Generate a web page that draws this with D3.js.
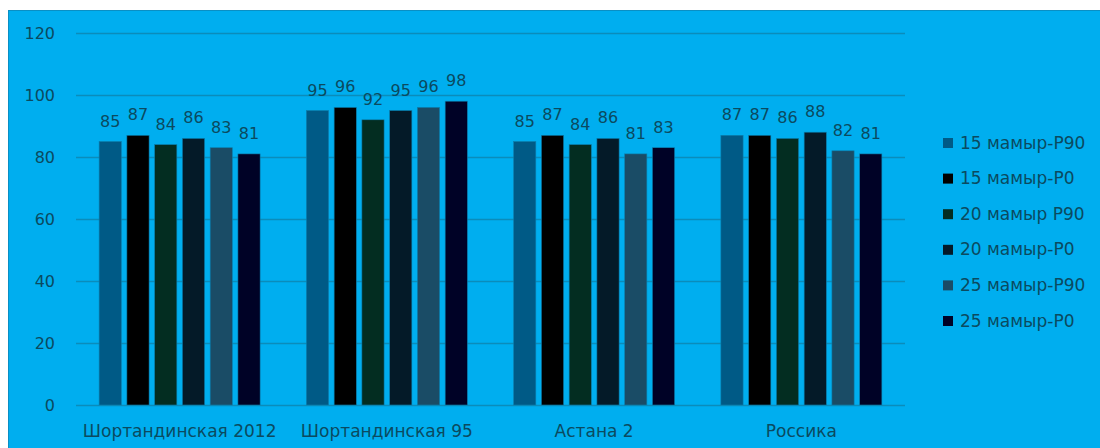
<!DOCTYPE html>
<html>
<head>
<meta charset="utf-8">
<script src="https://cdnjs.cloudflare.com/ajax/libs/d3/7.8.5/d3.min.js"></script>
<style>
  body { margin: 0; background: #fff; }
  svg text { font-family: "DejaVu Sans", sans-serif; fill: #0b4a60; }
</style>
</head>
<body>
<div class="board"></div>
<script>
var categories = ['Шортандинская 2012', 'Шортандинская 95', 'Астана 2', 'Россика'];
var seriesNames = ['15 мамыр-P90', '15 мамыр-P0', '20 мамыр P90', '20 мамыр-P0', '25 мамыр-P90', '25 мамыр-P0'];
var seriesColors = ['#005a86', '#000000', '#032d21', '#041a28', '#1a4c66', '#000226'];
var yTicks = [0, 20, 40, 60, 80, 100, 120];

// one array per series, one value per variety
var s15P90 = [85, 95, 85, 87];
var s15P0 = [87, 96, 87, 87];
var s20P90 = [84, 92, 84, 86];
var s20P0 = [86, 95, 86, 88];
var s25P90 = [83, 96, 81, 82];
var s25P0 = [81, 98, 83, 81];
var seriesValues = [s15P90, s15P0, s20P90, s20P0, s25P90, s25P0];

var width = 1100, height = 448;
var plot = { left: 76, right: 905, top: 33, bottom: 405 };

var svg = d3.select('.board').append('svg')
  .attr('width', width)
  .attr('height', height);

// blue panel
svg.append('rect')
  .attr('x', 8.5).attr('y', 10.5)
  .attr('width', 1100).attr('height', 448)
  .style('fill', '#00aeef')
  .style('stroke', '#0a8fc4');

var y = d3.scaleLinear().domain([0, 120]).range([plot.bottom, plot.top]);
var x0 = d3.scaleBand().domain(categories).range([plot.left, plot.right]).paddingInner(0).paddingOuter(0);
var groupWidth = 161;
var x1 = d3.scaleBand().domain(seriesNames)
  .range([0, groupWidth]).paddingInner(0.2).paddingOuter(0);

// gridlines
var yAxis = d3.axisLeft(y).tickValues(yTicks).tickSize(-(plot.right - plot.left)).tickPadding(21);
var gy = svg.append('g')
  .attr('transform', 'translate(' + plot.left + ',0)')
  .call(yAxis);
gy.select('.domain').remove();
gy.selectAll('.tick line').style('stroke', '#0b8cba').style('stroke-width', 1.3);
gy.selectAll('.tick text').style('font-size', '16px').style('fill', '#0b4a60').attr('font-family', null);

// bars
var groups = svg.append('g').selectAll('g').data(categories)
  .enter().append('g')
  .attr('transform', function(d) {
    return 'translate(' + (x0(d) + (x0.bandwidth() - groupWidth) / 2) + ',0)';
  });

groups.selectAll('rect')
  .data(function(d, i) {
    return seriesNames.map(function(s, j) { return { series: s, value: seriesValues[j][i], color: seriesColors[j] }; });
  })
  .enter().append('rect')
  .attr('x', function(d) { return x1(d.series); })
  .attr('y', function(d) { return y(d.value); })
  .attr('width', x1.bandwidth())
  .attr('height', function(d) { return y(0) - y(d.value); })
  .style('fill', function(d) { return d.color; })
  .style('stroke', '#0a7fae')
  .style('stroke-width', 0.6);

groups.selectAll('text.lbl')
  .data(function(d, i) {
    return seriesNames.map(function(s, j) { return { series: s, value: seriesValues[j][i] }; });
  })
  .enter().append('text')
  .attr('class', 'lbl')
  .attr('x', function(d) { return x1(d.series) + x1.bandwidth() / 2; })
  .attr('y', function(d) { return y(d.value) - 15; })
  .attr('text-anchor', 'middle')
  .style('font-size', '16px')
  .text(function(d) { return d.value; });

// category labels
svg.append('g').selectAll('text').data(categories)
  .enter().append('text')
  .attr('x', function(d) { return x0(d) + x0.bandwidth() / 2; })
  .attr('y', 437)
  .attr('text-anchor', 'middle')
  .style('font-size', '17px')
  .text(function(d) { return d; });

// legend
var legend = svg.append('g').selectAll('g').data(seriesNames)
  .enter().append('g')
  .attr('transform', function(d, i) { return 'translate(943,' + (143 + i * 35.6) + ')'; });
legend.append('rect')
  .attr('x', 0).attr('y', -5)
  .attr('width', 10).attr('height', 10)
  .style('fill', function(d, i) { return seriesColors[i]; });
legend.append('text')
  .attr('x', 17).attr('y', 5.5)
  .style('font-size', '17px')
  .text(function(d) { return d; });
</script>
</body>
</html>
